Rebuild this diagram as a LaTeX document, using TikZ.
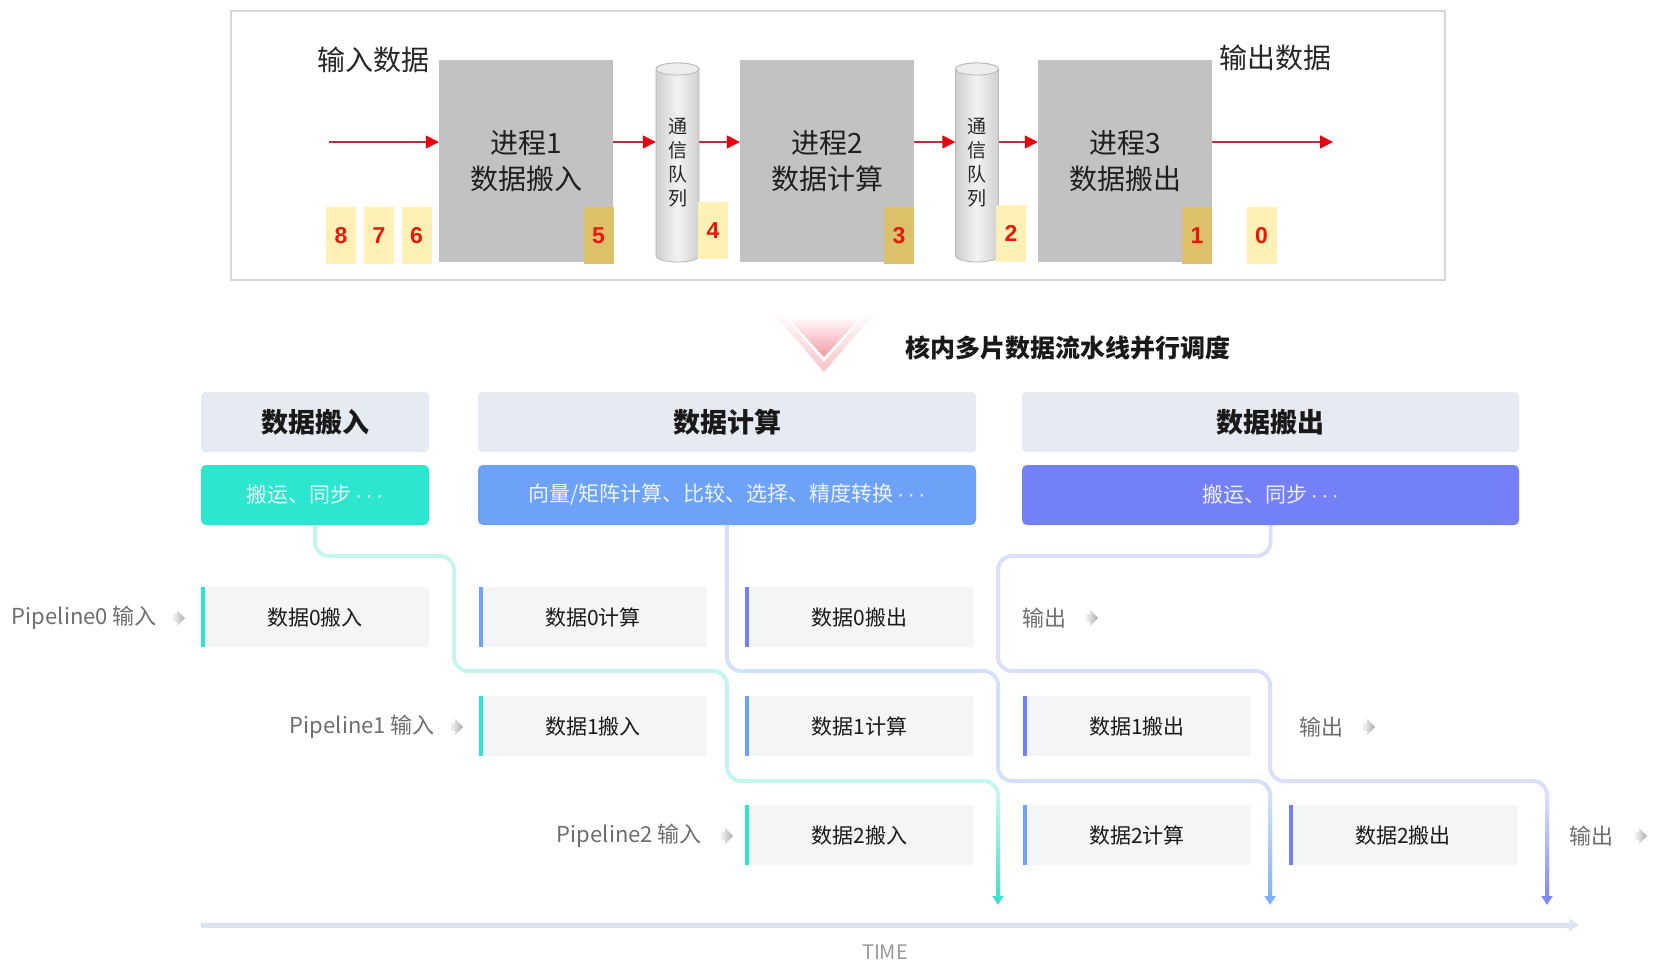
\documentclass[tikz,border=0pt]{standalone}
\usepackage{fontspec}
\setmainfont{Noto Sans CJK SC}
\newfontfamily\numfont{Liberation Sans}
\usetikzlibrary{arrows.meta,calc}
\definecolor{procgray}{HTML}{C2C2C2}
\definecolor{ylight}{HTML}{FFF0B5}
\definecolor{ydark}{HTML}{DCC06A}
\definecolor{numred}{HTML}{E8180C}
\definecolor{arrline}{HTML}{B5333A}
\definecolor{arrhead}{HTML}{E8000F}
\definecolor{framegray}{HTML}{D6D6D6}
\definecolor{cyldark}{HTML}{CFCFCF}
\definecolor{cyllight}{HTML}{F3F3F3}
\definecolor{cyltop}{HTML}{EDEDED}
\definecolor{cylline}{HTML}{B8B8B8}
\definecolor{hdrfill}{HTML}{E6EAF3}
\definecolor{tealc}{HTML}{2DE6CF}
\definecolor{bluec}{HTML}{6EA2F8}
\definecolor{purpc}{HTML}{7480F8}
\definecolor{rowfill}{HTML}{F4F5F7}
\definecolor{tealpale}{HTML}{C4F6EF}
\definecolor{bluepale}{HTML}{D3E2FC}
\definecolor{purppale}{HTML}{DCDFFC}
\definecolor{tealdeep}{HTML}{45E0CB}
\definecolor{bluedeep}{HTML}{7FB0FA}
\definecolor{purpdeep}{HTML}{8089F2}
\definecolor{axisc}{HTML}{DCE2EF}
\definecolor{lblgray}{HTML}{6E6E6E}
\definecolor{timegray}{HTML}{9A9A9A}
\definecolor{pinka}{HTML}{F7C4C9}
\definecolor{pinkb}{HTML}{F29AA5}
\newcommand{\fsz}[2]{\fontsize{#1pt}{#2pt}\selectfont}
\newcommand{\tdots}{{\numfont\,·\,·\,·}}
\newcommand{\mkrow}[5]{%
  \node[rbox] (#1) at (#2,#3) {#4};
  \fill[#5] (#1.north west) rectangle ([xshift=4pt]#1.south west);}
\newcommand{\gicon}[2]{%
  \shade[left color=white, right color=gray!65] ({#1-7},{#2-4}) -- ({#1-1},{#2-4}) -- ({#1-1},{#2-8}) -- ({#1+7},{#2}) -- ({#1-1},{#2+8}) -- ({#1-1},{#2+4}) -- ({#1-7},{#2+4}) -- cycle;}
\newcommand{\cyl}[1]{%
  \shadedraw[left color=cyldark, right color=cyldark, middle color=cyllight, draw=cylline, line width=0.8pt] ({#1-21.5},69) -- ({#1-21.5},256) arc[start angle=180, end angle=0, x radius=21.5, y radius=6] -- ({#1+21.5},69) arc[start angle=0, end angle=-180, x radius=21.5, y radius=6] -- cycle;
  \filldraw[fill=cyltop, draw=cylline, line width=0.8pt] (#1,69) ellipse [x radius=21.5, y radius=6];}
\begin{document}
\begin{tikzpicture}[x=1pt,y=-1pt,
 pbox/.style={fill=procgray, minimum width=174pt, minimum height=202pt, inner sep=0pt, align=center, font=\fsz{28}{36}, text=black!88},
 ylt/.style={fill=ylight, minimum width=30pt, minimum height=57pt, inner sep=0pt, font=\numfont\bfseries\fsz{23}{23}, text=numred},
 ydk/.style={ylt, fill=ydark},
 qnode/.style={minimum width=43pt, minimum height=200pt, inner sep=0pt, align=center, font=\fsz{19}{24}, text=black!85},
 redarr/.style={draw=arrline, line width=1.6pt, -{Triangle[length=13pt,width=13pt,color=arrhead]}},
 hdr/.style={fill=hdrfill, rounded corners=4pt, minimum height=60pt, inner sep=0pt, font=\bfseries\fsz{27}{30}, text=black!90},
 cbox/.style={rounded corners=5pt, minimum height=60pt, inner sep=0pt, font=\fsz{21}{24}, text=white, text opacity=0.88},
 rbox/.style={fill=rowfill, rounded corners=2pt, minimum width=228pt, minimum height=60pt, inner sep=0pt, font=\fsz{21}{24}, text=black!90},
 lbl/.style={inner sep=0pt, font=\fsz{22}{24}, text=lblgray},
 fl/.style={line width=4pt, rounded corners=14pt},
 bigl/.style={inner sep=0pt, font=\fsz{28}{30}, text=black!85}
]
\fill[white] (0,0) rectangle (1664,973);
\useasboundingbox (0,0) rectangle (1664,973);

% ---------- top section ----------
\draw[framegray, line width=1.5pt] (231,11) rectangle (1445,280);
\node[bigl] (inlbl) at (373,60) {输入数据};
\node[bigl] (outlbl) at (1275,58) {输出数据};

\node[pbox] (p1) at (526,161) {进程1\\数据搬入};
\node[pbox] (p2) at (827,161) {进程2\\数据计算};
\node[pbox] (p3) at (1125,161) {进程3\\数据搬出};

\cyl{677.5}
\cyl{977}
\node[qnode] (q1) at (677.5,163) {通\\信\\队\\列};
\node[qnode] (q2) at (977,163) {通\\信\\队\\列};

\node[ylt] (n8) at (341,235.5) {8};
\node[ylt] (n7) at (379,235.5) {7};
\node[ylt] (n6) at (416.5,235.5) {6};
\node[ydk] (n5) at (598.5,235.5) {5};
\node[ylt] (n4) at (713,230.5) {4};
\node[ydk] (n3) at (899,235.5) {3};
\node[ylt] (n2) at (1011,233.5) {2};
\node[ydk] (n1) at (1197,235.5) {1};
\node[ylt] (n0) at (1261.5,235.5) {0};

\coordinate (ay) at (0,142);
\coordinate (ain) at (329,142);
\coordinate (aout) at (1333,142);
\draw[redarr] (ain) -- (ain -| p1.west);
\draw[redarr] (ay -| p1.east) -- (ay -| q1.west);
\draw[redarr] (ay -| q1.east) -- (ay -| p2.west);
\draw[redarr] (ay -| p2.east) -- (ay -| q2.west);
\draw[redarr] (ay -| q2.east) -- (ay -| p3.west);
\draw[redarr] (ay -| p3.east) -- (aout);

% ---------- middle chevron + title ----------
\shade[top color=white, bottom color=pinka] (772,312) -- (824,372) -- (876,312) -- (868,312) -- (824,362) -- (780,312) -- cycle;
\shade[top color=white, bottom color=pinkb] (786,316) -- (824,357) -- (862,316) -- cycle;
\node[inner sep=0pt, font=\bfseries\fsz{25}{28}, text=black!90] (title) at (1068,348) {核内多片数据流水线并行调度};

% ---------- headers ----------
\node[hdr, minimum width=228pt] (h1) at (315,422) {数据搬入};
\node[hdr, minimum width=498pt] (h2) at (727,422) {数据计算};
\node[hdr, minimum width=497pt] (h3) at (1270.5,422) {数据搬出};

% ---------- flow lines ----------
\coordinate (te) at (998,905);
\coordinate (be) at (1270,905);
\coordinate (pe) at (1547,905);
\draw[fl, draw=tealpale, -{Triangle[length=9pt,width=11pt,color=tealdeep]}] (315,520) -- (315,556) -- (454,556) -- (454,671) -- (727,671) -- (727,781) -- (998,781) -- (te);
\draw[fl, draw=bluepale, -{Triangle[length=9pt,width=11pt,color=bluedeep]}] (727,520) -- (727,671) -- (998,671) -- (998,781) -- (1270,781) -- (be);
\draw[fl, draw=purppale, -{Triangle[length=9pt,width=11pt,color=purpdeep]}] (1270.5,520) -- (1270.5,556) -- (998,556) -- (998,671) -- (1270,671) -- (1270,781) -- (1547,781) -- (pe);
\shade[top color=tealpale, bottom color=tealdeep] (996,798) rectangle (1000,897);
\shade[top color=bluepale, bottom color=bluedeep] (1268,798) rectangle (1272,897);
\shade[top color=purppale, bottom color=purpdeep] (1545,798) rectangle (1549,897);

\node[cbox, fill=tealc, minimum width=228pt] (k1) at (315,495) {搬运、同步\tdots};
\node[cbox, fill=bluec, minimum width=498pt] (k2) at (727,495) {向量/矩阵计算、比较、选择、精度转换\tdots};
\node[cbox, fill=purpc, minimum width=497pt] (k3) at (1270.5,495) {搬运、同步\tdots};

% ---------- rows ----------
\mkrow{r0a}{315}{617}{数据0搬入}{tealc}
\mkrow{r0b}{593}{617}{数据0计算}{bluec}
\mkrow{r0c}{859.5}{617}{数据0搬出}{purpc}
\mkrow{r1a}{593}{726}{数据1搬入}{tealc}
\mkrow{r1b}{859.5}{726}{数据1计算}{bluec}
\mkrow{r1c}{1137}{726}{数据1搬出}{purpc}
\mkrow{r2a}{859.5}{835}{数据2搬入}{tealc}
\mkrow{r2b}{1137}{835}{数据2计算}{bluec}
\mkrow{r2c}{1403}{835}{数据2搬出}{purpc}

\node[lbl, anchor=east] (pl0) at (157,618) {Pipeline0 输入};
\node[lbl, anchor=east] (pl1) at (435,727) {Pipeline1 输入};
\node[lbl, anchor=east] (pl2) at (702,836) {Pipeline2 输入};
\gicon{178}{618}
\gicon{456}{727}
\gicon{726}{836}
\node[lbl, anchor=west] (o0) at (1022,618) {输出};
\node[lbl, anchor=west] (o1) at (1299,727) {输出};
\node[lbl, anchor=west] (o2) at (1569,836) {输出};
\gicon{1091}{618}
\gicon{1368}{727}
\gicon{1640}{836}

% ---------- time axis ----------
\coordinate (t0) at (201,925);
\coordinate (t1) at (1579,925);
\draw[axisc, line width=5pt, -{Triangle[length=10pt,width=12pt]}] (t0) -- (t1);
\node[inner sep=0pt, font=\fsz{20}{22}, text=timegray] (time) at (885,952) {TIME};
\end{tikzpicture}
\end{document}
